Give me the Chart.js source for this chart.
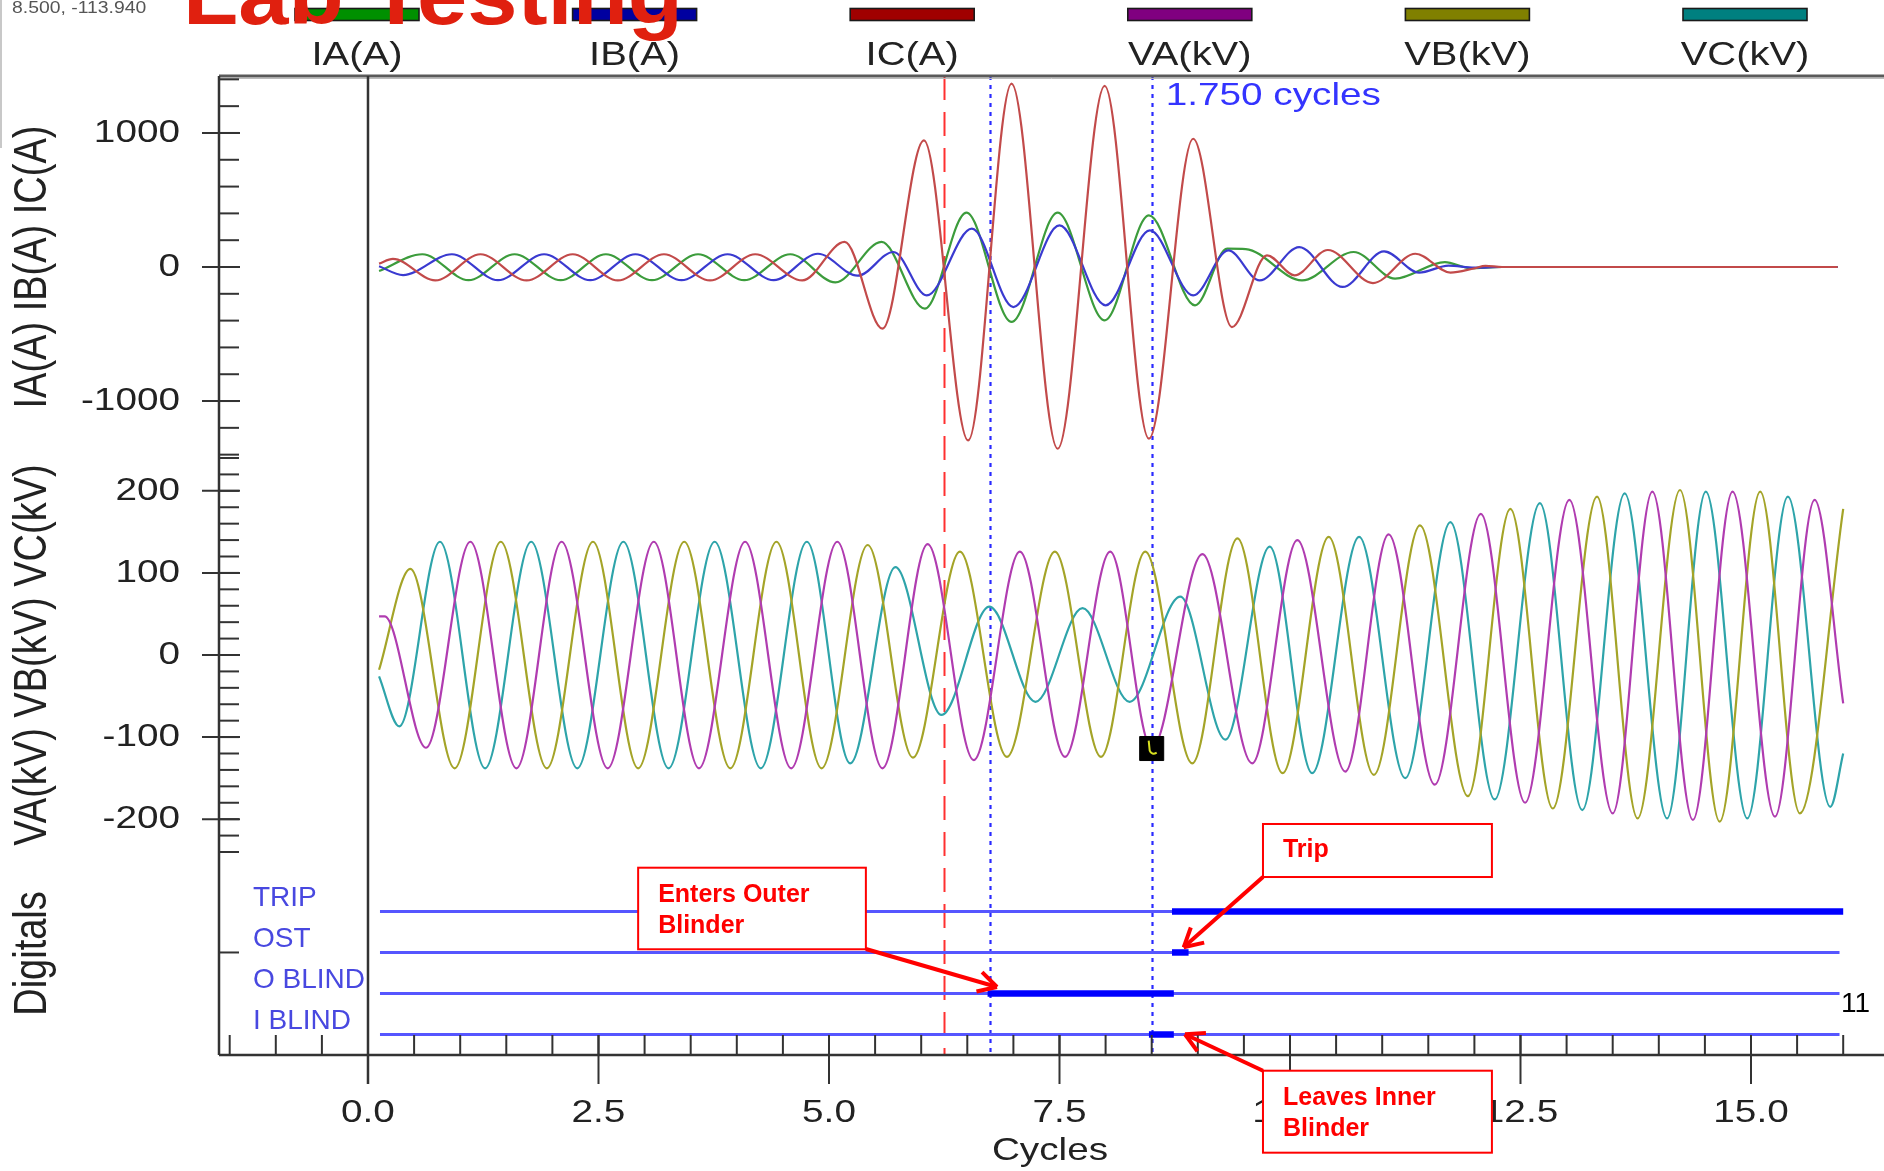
<!DOCTYPE html>
<html>
<head>
<meta charset="utf-8">
<script src="https://cdn.jsdelivr.net/npm/chart.js@4.4.1/dist/chart.umd.min.js"></script>
<style>
    html, body { margin: 0; padding: 0; background: #fff; }
    #wrap { width: 1884px; height: 1171px; position: relative; }
</style>
</head>
<body>
<div id="wrap"><canvas id="rec" width="1884" height="1171"></canvas></div>
<script>
/* 錄波圖：電流／電壓／數位訊號，橫軸為週波 */

// 週波刻度
const cycleTicks = [0, 2.5, 5, 7.5, 10, 12.5, 15];
const currentTicks = [-1000, 0, 1000];
const voltageTicks = [-200, -100, 0, 100, 200];

// 波形峰谷值 [週波, 值]
const iaPeaks = [[0.12, -30], [0.59, 95], [1.09, -98], [1.59, 95], [2.09, -98], [2.58, 95], [3.08, -98], [3.58, 95],
    [4.08, -98], [4.58, 95], [5.07, -115], [5.57, 187], [6.04, -311], [6.49, 405], [6.98, -410], [7.48, 405],
    [7.99, -398], [8.47, 385], [8.97, -286], [9.32, 137], [9.52, 134], [10.13, -100], [10.69, 112], [11.14, -87],
    [11.68, 37], [11.95, -8], [12.3, 0], [15.94, 0]];
const ibPeaks = [[0.12, 5], [0.38, -60], [0.91, 95], [1.41, -98], [1.91, 95], [2.41, -98], [2.9, 95], [3.4, -98],
    [3.9, 95], [4.4, -98], [4.88, 99], [5.31, -65], [5.7, 112], [6.06, -212], [6.55, 286], [7.0, -299], [7.5, 310],
    [8.0, -286], [8.48, 273], [8.95, -212], [9.33, 124], [9.67, -100], [10.1, 149], [10.57, -149], [11.02, 116],
    [11.4, -42], [11.72, 10], [12.0, -5], [12.3, 0], [15.94, 0]];
const icPeaks = [[0.12, 25], [0.27, 60], [0.73, -100], [1.22, 95], [1.72, -100], [2.22, 95], [2.71, -100], [3.21, 95],
    [3.71, -100], [4.2, 95], [4.71, -100], [5.17, 187], [5.58, -460], [6.03, 945], [6.51, -1294], [6.98, 1368],
    [7.48, -1356], [7.99, 1351], [8.47, -1281], [8.95, 957], [9.37, -448], [9.75, 87], [10.05, -62], [10.41, 127],
    [10.9, -120], [11.36, 99], [11.74, -42], [12.0, -10], [12.12, 8], [12.3, 0], [15.94, 0]];

const vaPeaks = [[0.12, 47], [0.18, 47], [0.63, -113], [1.11, 138], [1.61, -138], [2.1, 138], [2.6, -138], [3.1, 138],
    [3.59, -138], [4.09, 138], [4.59, -138], [5.09, 138], [5.58, -138], [6.07, 135], [6.57, -128], [7.07, 126],
    [7.56, -124], [8.05, 126], [8.5, -114], [9.05, 123], [9.59, -132], [10.08, 140], [10.6, -142], [11.07, 147],
    [11.57, -158], [12.07, 172], [12.55, -180], [13.03, 189], [13.5, -193], [13.93, 199], [14.37, -201], [14.8, 199],
    [15.26, -197], [15.69, 189], [16.0, -59]];
const vbPeaks = [[0.12, -18], [0.46, 105], [0.94, -138], [1.44, 138], [1.94, -138], [2.44, 138], [2.93, -138],
    [3.43, 138], [3.93, -138], [4.43, 138], [4.92, -138], [5.42, 134], [5.91, -125], [6.42, 126], [6.93, -124],
    [7.45, 126], [7.95, -124], [8.43, 126], [8.94, -132], [9.43, 142], [9.92, -144], [10.42, 144], [10.91, -146],
    [11.41, 158], [11.93, -172], [12.39, 178], [12.85, -187], [13.33, 193], [13.77, -199], [14.23, 201],
    [14.66, -203], [15.1, 199], [15.53, -193], [16.0, 178]];
const vcPeaks = [[0.12, -26], [0.34, -87], [0.78, 138], [1.27, -138], [1.77, 138], [2.27, -138], [2.77, 138],
    [3.26, -138], [3.76, 138], [4.26, -138], [4.76, 138], [5.23, -132], [5.72, 107], [6.22, -73], [6.74, 59],
    [7.24, -57], [7.75, 57], [8.26, -57], [8.81, 71], [9.3, -103], [9.78, 132], [10.24, -144], [10.75, 144],
    [11.25, -150], [11.74, 162], [12.22, -176], [12.71, 185], [13.17, -189], [13.63, 197], [14.09, -199],
    [14.51, 199], [14.96, -199], [15.4, 193], [15.86, -185], [16.0, -120]];

// 數位通道
const digitalNames = ['TRIP', 'OST', 'O BLIND', 'I BLIND'];
const digitalLevels = [3.5, 2.5, 1.5, 0.5];
const digitalSpan = [0.13, 15.96];
const digitalOn = [[8.72, 16.0], [8.72, 8.9], [6.72, 8.74], [8.47, 8.74]];

// 游標
const cursorCycles = [6.25, 6.75, 8.5];
const cursorReadout = [8.5, -113.94];

const SANS = '"Liberation Sans", Arial, sans-serif';
const STRETCH = 1.21;
const INK = '#222222';

const series = [
    { label: 'IA(A)', peaks: iaPeaks, axis: 'yI', line: '#3c9c3c', key: '#009000', order: 2 },
    { label: 'IB(A)', peaks: ibPeaks, axis: 'yI', line: '#3a3ad0', key: '#0000a0', order: 1 },
    { label: 'IC(A)', peaks: icPeaks, axis: 'yI', line: '#c24a4a', key: '#a00000', order: 0 },
    { label: 'VA(kV)', peaks: vaPeaks, axis: 'yV', line: '#b03cb0', key: '#800080', order: 0 },
    { label: 'VB(kV)', peaks: vbPeaks, axis: 'yV', line: '#a4a428', key: '#808000', order: 1 },
    { label: 'VC(kV)', peaks: vcPeaks, axis: 'yV', line: '#2ea4aa', key: '#008080', order: 2 },
];

const toXY = (arr) => arr.map(([x, y]) => ({ x, y }));

function drawText(ctx, str, x, y, opt) {
    ctx.save();
    ctx.font = opt.font;
    ctx.fillStyle = opt.color || INK;
    ctx.textAlign = opt.align || 'left';
    ctx.textBaseline = opt.baseline || 'alphabetic';
    ctx.translate(x, y);
    ctx.scale(opt.sx || 1, 1);
    if (opt.rotate) ctx.rotate(opt.rotate);
    ctx.fillText(str, 0, 0);
    ctx.restore();
}

function seg(ctx, x1, y1, x2, y2, color, width, dash) {
    ctx.save();
    ctx.strokeStyle = color;
    ctx.lineWidth = width;
    ctx.setLineDash(dash || []);
    ctx.beginPath();
    ctx.moveTo(x1, y1);
    ctx.lineTo(x2, y2);
    ctx.stroke();
    ctx.restore();
}

// 註解框（以 x 週波、yD 數位刻度定位）
const notes = [
    { lines: ['Enters Outer', 'Blinder'], box: [2.93, 5.40, 4.567, 2.578], from: [5.40, 2.585], tip: [6.822, 1.658] },
    { lines: ['Trip'], box: [9.707, 12.19, 5.633, 4.34], from: [9.707, 4.34], tip: [8.847, 2.626] },
    { lines: ['Leaves Inner', 'Blinder'], box: [9.707, 12.19, -0.383, -2.382], from: [9.707, -0.383], tip: [8.861, 0.505] },
];

const cursorPlugin = {
    id: 'cursors',
    beforeDatasetsDraw(chart) {
        const { ctx, chartArea: a, scales: { x } } = chart;
        cursorCycles.forEach((c, i) => {
            const px = Math.round(x.getPixelForValue(c)) + 0.5;
            if (i === 0) seg(ctx, px, a.top, px, a.bottom, '#ff3030', 2, [24, 12]);
            else seg(ctx, px, a.top, px, a.bottom, '#2a2aff', 2.2, [4, 5]);
        });
    },
};

const framePlugin = {
    id: 'frame',
    afterDatasetsDraw(chart) {
        const { ctx, chartArea: a, scales: { x, yI, yV, yD } } = chart;
        const W = chart.width;

        // 游標標記內的小符號
        const mk = chart.getDatasetMeta(chart.data.datasets.length - 1).data[0];
        if (mk) {
            ctx.save();
            ctx.strokeStyle = '#d8e020';
            ctx.lineWidth = 2;
            ctx.beginPath();
            ctx.moveTo(mk.x - 3, mk.y - 8);
            ctx.lineTo(mk.x - 2, mk.y + 2);
            ctx.quadraticCurveTo(mk.x, mk.y + 7, mk.x + 5, mk.y + 4);
            ctx.stroke();
            ctx.restore();
        }

        // 外框
        seg(ctx, a.left, a.top, W, a.top, '#5a5a5a', 3);
        seg(ctx, a.left, a.top + 2.5, W, a.top + 2.5, '#bbbbbb', 1);
        seg(ctx, a.left, a.top, a.left, a.bottom, '#333', 2.5);
        seg(ctx, a.left, a.bottom, W, a.bottom, '#333', 2.5);
        const x0 = x.getPixelForValue(0);
        seg(ctx, x0, a.top, x0, a.bottom + 29, '#333', 2.5);

        // y 刻度
        const yTicks = (scale, lo, hi, step) => {
            for (let v = lo; v <= hi + 1e-6; v += step) {
                const p = scale.getPixelForValue(v);
                seg(ctx, a.left, p, a.left + 20, p, '#333', 2);
            }
            scale.ticks.forEach((t) => {
                const p = scale.getPixelForValue(t.value);
                seg(ctx, a.left - 17, p, a.left + 21, p, '#333', 2);
                drawText(ctx, String(t.value), a.left - 39, p, {
                    font: `32px ${SANS}`, align: 'right', baseline: 'middle', sx: STRETCH,
                });
            });
        };
        yTicks(yI, -1400, 1400, 200);
        yTicks(yV, -240, 240, 20);
        const pOst = yD.getPixelForValue(digitalLevels[1]);
        seg(ctx, a.left, pOst, a.left + 20, pOst, '#333', 2);

        // x 刻度
        for (let k = -3; k <= 32; k++) {
            const p = x.getPixelForValue(k * 0.5);
            seg(ctx, p, a.bottom - 20, p, a.bottom, '#333', 2);
        }
        x.ticks.forEach((t) => {
            const p = x.getPixelForValue(t.value);
            seg(ctx, p, a.bottom - 20, p, a.bottom + 29, '#333', 2);
            drawText(ctx, t.value.toFixed(1), p, a.bottom + 58, {
                font: `32px ${SANS}`, align: 'center', baseline: 'middle', sx: STRETCH,
            });
        });
        drawText(ctx, 'Cycles', (a.left + a.right) / 2, 1160, {
            font: `32px ${SANS}`, align: 'center', sx: STRETCH,
        });

        // 軸標題
        const titles = [['IA(A) IB(A) IC(A)', yI], ['VA(kV) VB(kV) VC(kV)', yV], ['Digitals', yD]];
        titles.forEach(([str, s]) => {
            drawText(ctx, str, 33, (s.top + s.bottom) / 2, {
                font: `38px ${SANS}`, align: 'center', baseline: 'middle', sx: STRETCH, rotate: -Math.PI / 2,
            });
        });

        // 數位通道名稱
        digitalNames.forEach((n, i) => {
            drawText(ctx, n, 253, yD.getPixelForValue(digitalLevels[i]) - 5, {
                font: `28px ${SANS}`, color: '#4848e0',
            });
        });
        drawText(ctx, '11', 1841, 1012, { font: `28px ${SANS}`, color: '#000' });

        // 游標讀值
        const dt = (cursorCycles[2] - cursorCycles[1]).toFixed(3);
        drawText(ctx, `${dt} cycles`, x.getPixelForValue(cursorCycles[2]) + 14, 105, {
            font: `32px ${SANS}`, color: '#3434ff', sx: STRETCH,
        });
    },
    afterDraw(chart) {
        const { ctx, scales: { x, yD } } = chart;

        // 圖例
        series.forEach((s, i) => {
            const cx = 357 + i * 277.6;
            ctx.save();
            ctx.fillStyle = s.key;
            ctx.strokeStyle = '#1a1a1a';
            ctx.lineWidth = 1.6;
            ctx.fillRect(cx - 62, 8.5, 124, 12);
            ctx.strokeRect(cx - 62, 8.5, 124, 12);
            ctx.restore();
            drawText(ctx, s.label, cx, 65, { font: `33px ${SANS}`, align: 'center', sx: STRETCH });
        });

        drawText(ctx, `${cursorReadout[0].toFixed(3)}, ${cursorReadout[1].toFixed(3)}`, 12, 13, {
            font: `16px ${SANS}`, color: '#555', sx: STRETCH,
        });

        // 大標題（上半被裁切）
        ctx.save();
        ctx.font = `bold 84px ${SANS}`;
        const w = ctx.measureText('Lab Testing').width;
        ctx.restore();
        drawText(ctx, 'Lab Testing', 183, 24, { font: `bold 84px ${SANS}`, color: '#e0200f', sx: 500 / w });

        seg(ctx, 1, 0, 1, 148, '#c8c8c8', 2);

        // 註解
        notes.forEach((n) => {
            const l = x.getPixelForValue(n.box[0]);
            const r = x.getPixelForValue(n.box[1]);
            const t = yD.getPixelForValue(n.box[2]);
            const b = yD.getPixelForValue(n.box[3]);
            const fx = x.getPixelForValue(n.from[0]);
            const fy = yD.getPixelForValue(n.from[1]);
            const tx = x.getPixelForValue(n.tip[0]);
            const ty = yD.getPixelForValue(n.tip[1]);
            seg(ctx, fx, fy, tx, ty, '#ff0000', 4);
            const ang = Math.atan2(ty - fy, tx - fx);
            [0.5, -0.5].forEach((d) => {
                seg(ctx, tx, ty, tx - 21 * Math.cos(ang + d), ty - 21 * Math.sin(ang + d), '#ff0000', 4);
            });
            ctx.save();
            ctx.fillStyle = '#fff';
            ctx.fillRect(l, t, r - l, b - t);
            ctx.strokeStyle = '#ff0000';
            ctx.lineWidth = 2;
            ctx.strokeRect(l, t, r - l, b - t);
            ctx.restore();
            const h = b - t;
            n.lines.forEach((str, k) => {
                const cy = n.lines.length === 1 ? t + h / 2 : t + h * (0.33 + 0.385 * k);
                drawText(ctx, str, l + 20, cy, {
                    font: `bold 25px ${SANS}`, color: '#ff0000', baseline: 'middle',
                });
            });
        });
    },
};

const datasets = series.map((s) => ({
    label: s.label,
    data: toXY(s.peaks),
    yAxisID: s.axis,
    borderColor: s.line,
    borderWidth: 2.2,
    pointRadius: 0,
    cubicInterpolationMode: 'monotone',
    order: s.order + 5,
}));

digitalNames.forEach((n, i) => {
    datasets.push({
        label: n,
        data: digitalSpan.map((c) => ({ x: c, y: digitalLevels[i] })),
        yAxisID: 'yD',
        borderColor: '#5656ff',
        borderWidth: 3,
        pointRadius: 0,
        order: 3,
    });
    datasets.push({
        label: n + ' on',
        data: digitalOn[i].map((c) => ({ x: c, y: digitalLevels[i] })),
        yAxisID: 'yD',
        borderColor: '#0000ff',
        borderWidth: 6.5,
        borderCapStyle: 'butt',
        pointRadius: 0,
        order: 2,
    });
});

datasets.push({
    label: 'cursor',
    data: [{ x: cursorReadout[0], y: cursorReadout[1] }],
    yAxisID: 'yV',
    showLine: false,
    pointStyle: 'rect',
    pointRadius: 17,
    backgroundColor: '#000',
    borderColor: '#000',
    order: 0,
});

const hiddenAxis = {
    grid: { display: false },
    border: { display: false },
    ticks: { display: false },
};

new Chart(document.getElementById('rec'), {
    type: 'line',
    data: { datasets },
    options: {
        responsive: false,
        animation: false,
        devicePixelRatio: 1,
        layout: { autoPadding: false, padding: { top: 76, right: 3, left: 0, bottom: 0 } },
        plugins: { legend: { display: false }, tooltip: { enabled: false } },
        scales: {
            x: {
                type: 'linear', min: -1.616, max: 16.41, ...hiddenAxis,
                afterBuildTicks: (s) => { s.ticks = cycleTicks.map((value) => ({ value })); },
                afterFit: (s) => { s.height = 116; },
            },
            yD: {
                type: 'linear', position: 'left', stack: 'panels', stackWeight: 203, min: 0, max: 4.95, ...hiddenAxis,
                afterFit: (s) => { s.width = 219; },
            },
            yV: {
                type: 'linear', position: 'left', stack: 'panels', stackWeight: 394, min: -240, max: 240, ...hiddenAxis,
                afterBuildTicks: (s) => { s.ticks = voltageTicks.map((value) => ({ value })); },
                afterFit: (s) => { s.width = 219; },
            },
            yI: {
                type: 'linear', position: 'left', stack: 'panels', stackWeight: 382, min: -1425, max: 1425, ...hiddenAxis,
                afterBuildTicks: (s) => { s.ticks = currentTicks.map((value) => ({ value })); },
                afterFit: (s) => { s.width = 219; },
            },
        },
    },
    plugins: [cursorPlugin, framePlugin],
});
</script>
</body>
</html>
